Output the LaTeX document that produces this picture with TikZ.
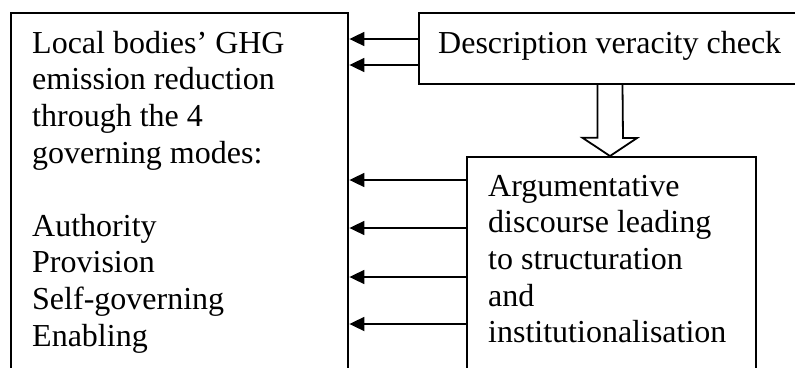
\documentclass[tikz,border=0pt]{standalone}
\usepackage{fontspec}
\setmainfont{Liberation Serif}
\usetikzlibrary{arrows.meta}
\begin{document}
\begin{tikzpicture}[x=1pt,y=-1pt,
  boxa/.style={draw, line width=2.4pt, inner sep=0pt, anchor=north west},
  boxb/.style={draw, line width=1.8pt, inner sep=0pt, anchor=north west},
  txt/.style={font=\fontsize{32}{36.6}\selectfont, align=left, inner sep=0pt, anchor=north west},
  arr/.style={line width=1.8pt, -{Triangle[length=15pt,width=14pt]}}]
\useasboundingbox (0,0) rectangle (795,367);
\clip (0,0) rectangle (795,367);
% boxes
\node[boxa, minimum width=337pt, minimum height=400pt] (gov) at (10,12) {};
\node[boxb, minimum width=420pt, minimum height=71pt] (check) at (418,12) {};
\node[boxb, minimum width=289pt, minimum height=260pt] (arg) at (466,156) {};
% texts
\node[txt] (govtxt) at (32,29) {\rule{0pt}{24pt}Local bodies’ GHG\\emission reduction\\through the 4\\governing modes:\\[36.6pt]Authority\\Provision\\Self-governing\\Enabling};
\node[font=\fontsize{32}{36.6}\selectfont, inner sep=0pt, anchor=base west] (checktxt) at (438,53) {Description veracity check};
\node[txt] (argtxt) at (488,172) {\rule{0pt}{24pt}Argumentative\\discourse leading\\to structuration\\and\\institutionalisation};
% arrows
\foreach \y in {39,65,180,228,277,324} {\path (0,\y) coordinate (yy\y);}
\foreach \y in {39,65} {\draw[arr] (check.west |- yy\y) -- (gov.east |- yy\y);}
\foreach \y in {180,228,277,324} {\draw[arr] (arg.west |- yy\y) -- (gov.east |- yy\y);}
% block arrow
\coordinate (hs) at (610,84);
\draw[line width=1.8pt, line join=miter]
  ([xshift=-12.5pt]hs |- check.south) -- ++(0,53) -- ++(-15,0) -- (hs |- arg.north)
  -- ++(27,-18) -- ++(-14,0) -- ([xshift=12.5pt]hs |- check.south);
\end{tikzpicture}
\end{document}
